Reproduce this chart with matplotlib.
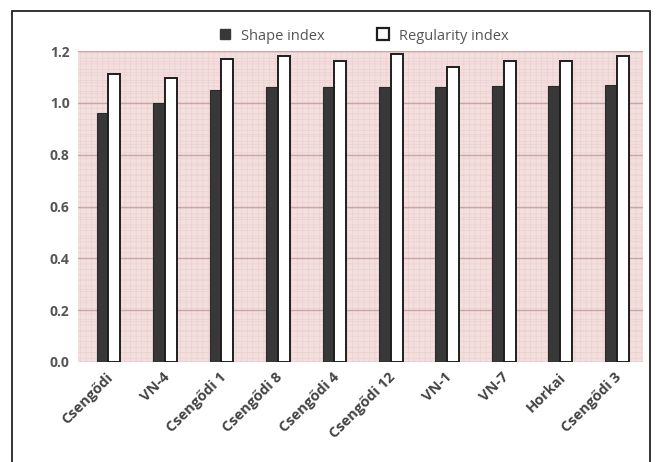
import matplotlib
matplotlib.use("Agg")
import matplotlib.pyplot as plt
import numpy as np
from matplotlib.patches import Rectangle
from matplotlib.lines import Line2D
from matplotlib.ticker import MultipleLocator

varieties = ["Csengődi", "VN-4", "Csengődi 1", "Csengődi 8", "Csengődi 4",
             "Csengődi 12", "VN-1", "VN-7", "Horkai", "Csengődi 3"]
shape_index = [0.96, 1.00, 1.05, 1.06, 1.06, 1.06, 1.06, 1.065, 1.065, 1.07]
regularity_index = [1.11, 1.095, 1.17, 1.18, 1.16, 1.19, 1.14, 1.16, 1.16, 1.18]
y_ticks = [0.0, 0.2, 0.4, 0.6, 0.8, 1.0, 1.2]

plt.rcParams["font.family"] = ["Open Sans", "DejaVu Sans"]
plt.rcParams["hatch.linewidth"] = 0.5

fig = plt.figure(figsize=(6.6, 4.62), dpi=100)
fig.patch.set_facecolor("white")
ax = fig.add_axes([0.118, 0.2165, 0.856, 0.673])

# Patterned pink plot background
ax.set_facecolor("#f4dfdf")
bg = Rectangle((0, 0), 1, 1, transform=ax.transAxes, facecolor="none",
               edgecolor="#ecd0d0", hatch="+++", linewidth=0, zorder=0)
ax.add_patch(bg)

x = np.arange(len(varieties))
w = 0.21
ax.bar(x - w / 2 + 0.04, shape_index, width=w, color="#383838", edgecolor="#2a2a2a",
       linewidth=0.8, zorder=3)
ax.bar(x + w / 2 + 0.04, regularity_index, width=w, color="white", edgecolor="#1e1e1e",
       linewidth=1.4, zorder=3)

ax.set_xlim(-0.5, len(varieties) - 0.5)
ax.set_ylim(0, 1.2)
ax.set_yticks(y_ticks)
ax.set_yticklabels([f"{v:.1f}" for v in y_ticks], fontsize=10,
                   fontweight="bold", color="#555555")
ax.yaxis.set_minor_locator(MultipleLocator(0.04))
ax.grid(axis="y", which="major", color="#c9a5a5", linewidth=1.0, zorder=1)
ax.grid(axis="y", which="minor", color="#eed3d3", linewidth=0.6, zorder=1)
ax.set_xticks(x)
ax.set_xticklabels(varieties, rotation=45, ha="right", rotation_mode="anchor",
                   fontsize=10.5, fontweight="bold", color="#444444")
ax.tick_params(axis="both", which="both", length=0, pad=6)
for s in ax.spines.values():
    s.set_visible(False)

handles = [
    Line2D([], [], marker="s", linestyle="none", markersize=7,
           markerfacecolor="#383838", markeredgecolor="#383838"),
    Line2D([], [], marker="s", linestyle="none", markersize=8,
           markerfacecolor="white", markeredgecolor="#1e1e1e", markeredgewidth=1.6),
]
fig.legend(handles, ["Shape index", "Regularity index"], loc="center",
           bbox_to_anchor=(0.545, 0.922), ncol=2, frameon=False, fontsize=10.5,
           handletextpad=0.1, columnspacing=3.0, labelcolor="#555555")

# Frame around the whole chart
fig.add_artist(Rectangle((12 / 660, -0.02), 638 / 660, 1 - 11 / 462 + 0.02,
                         transform=fig.transFigure, fill=False,
                         edgecolor="#222222", linewidth=1.3))

fig.savefig("out.png", dpi=100)
